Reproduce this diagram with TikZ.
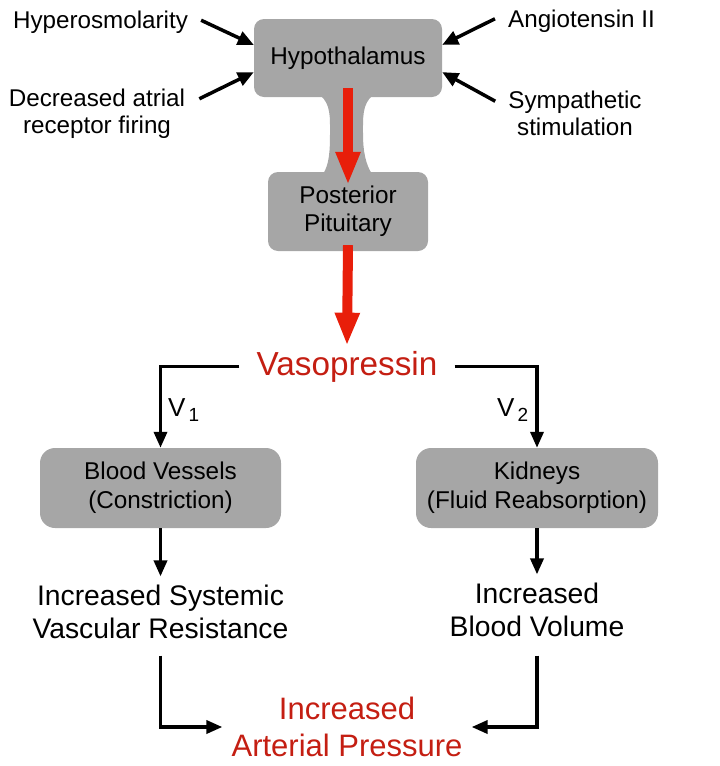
\documentclass[tikz,border=0pt]{standalone}
\usepackage{fontspec}
\setmainfont{Liberation Sans}
\usetikzlibrary{arrows.meta,calc}
\definecolor{boxgray}{RGB}{166,166,166}
\definecolor{arrred}{RGB}{232,30,10}
\definecolor{txtred}{RGB}{196,30,18}
\begin{document}
\begin{tikzpicture}[x=1pt,y=-1pt,
  gbox/.style={fill=boxgray, draw=none, rounded corners=10pt, align=center, inner sep=0pt, font=\fontsize{24.3}{29}\selectfont},
  conn/.style={line width=3.5pt, -{Triangle[length=16pt,width=13pt]}},
  inarr/.style={line width=3.5pt, -{Triangle[length=16pt,width=14pt]}},
  redarr/.style={draw=arrred, line width=10pt, -{Triangle[length=33pt,width=23pt]}},
  smalltxt/.style={font=\fontsize{24.2}{27}\selectfont, align=center, inner sep=0pt},
  midtxt/.style={font=\fontsize{28.3}{33}\selectfont, align=center, inner xsep=0pt, inner ysep=8pt},
  vlab/.style={anchor=base west, font=\fontsize{26}{30}\selectfont, inner sep=0pt}
]
\useasboundingbox (0,0) rectangle (720,766);

% stalk between hypothalamus and pituitary
\fill[boxgray] (320,95) .. controls (331,104) and (330,118) .. (330,134)
  .. controls (330,152) and (329,165) .. (323,174) -- (372,174)
  .. controls (366,165) and (363,152) .. (363,134)
  .. controls (363,118) and (362,104) .. (373,95) -- cycle;

\node[gbox, minimum width=188pt, minimum height=78pt] (hyp) at (348,58) {Hypothalamus};
\node[gbox, minimum width=160pt, minimum height=79pt, font=\fontsize{24.3}{28}\selectfont] (pit) at (348,211.5) {Posterior\\Pituitary};

% inputs
\node[smalltxt, anchor=base] (hypo) at (100.5,28) {Hyperosmolarity};
\node[smalltxt] (dec) at (97,113.3) {Decreased atrial\\receptor firing};
\node[smalltxt, anchor=base] (angio) at (581.5,27) {Angiotensin II};
\node[smalltxt] (symp) at (575,113.3) {Sympathetic\\stimulation};

\draw[inarr] ($(hypo.east)+(13,-1.5)$) -- ($(hyp.north west)!0.333!(hyp.south west)$);
\draw[inarr] ($(dec.north east)+(14,10.5)$) -- ($(hyp.north west)!0.68!(hyp.south west)$);
\draw[inarr] ($(angio.west)+(-13,-2)$) -- ($(hyp.north east)!0.333!(hyp.south east)$);
\draw[inarr] ($(symp.north west)+(-13,10.5)$) -- ($(hyp.north east)!0.68!(hyp.south east)$);

% vasopressin
\node[font=\fontsize{33.3}{36}\selectfont, text=txtred, anchor=base, inner xsep=17pt, inner ysep=5pt] (vaso) at (347,375) {Vasopressin};

\draw[redarr] ([yshift=9pt]hyp.south) -- ([yshift=-13pt]pit.north);
\draw[redarr] ([yshift=6pt]pit.south) -- (vaso.north);

% targets
\node[gbox, rounded corners=15pt, minimum width=241pt, minimum height=80pt] (bv) at (160.5,488) {Blood Vessels\\(Constriction)};
\node[gbox, rounded corners=15pt, minimum width=242pt, minimum height=80pt] (kid) at (537,488) {Kidneys\\(Fluid Reabsorption)};

\draw[conn] (vaso.west) -| (bv.north);
\draw[conn] (vaso.east) -| (kid.north);

\node[vlab] (v1) at (168,416) {V\hspace{3pt}\raisebox{-5pt}{\fontsize{19}{20}\selectfont 1}};
\node[vlab] (v2) at (497,416) {V\hspace{3pt}\raisebox{-5pt}{\fontsize{19}{20}\selectfont 2}};

% effects
\node[midtxt] (isvr) at (160.5,611.5) {Increased Systemic\\Vascular Resistance};
\node[midtxt] (ibv) at (537,609.5) {Increased\\Blood Volume};

\draw[conn] (bv.south) -- (isvr.north);
\draw[conn] (kid.south) -- (ibv.north);

\node[font=\fontsize{31}{37}\selectfont, text=txtred, align=center, inner xsep=9pt, inner ysep=0pt] (iap) at (347,727) {Increased\\Arterial Pressure};

\draw[conn] ([yshift=-9pt]isvr.south) |- (iap.west);
\draw[conn] ([yshift=-11pt]ibv.south) |- (iap.east);
\end{tikzpicture}
\end{document}
